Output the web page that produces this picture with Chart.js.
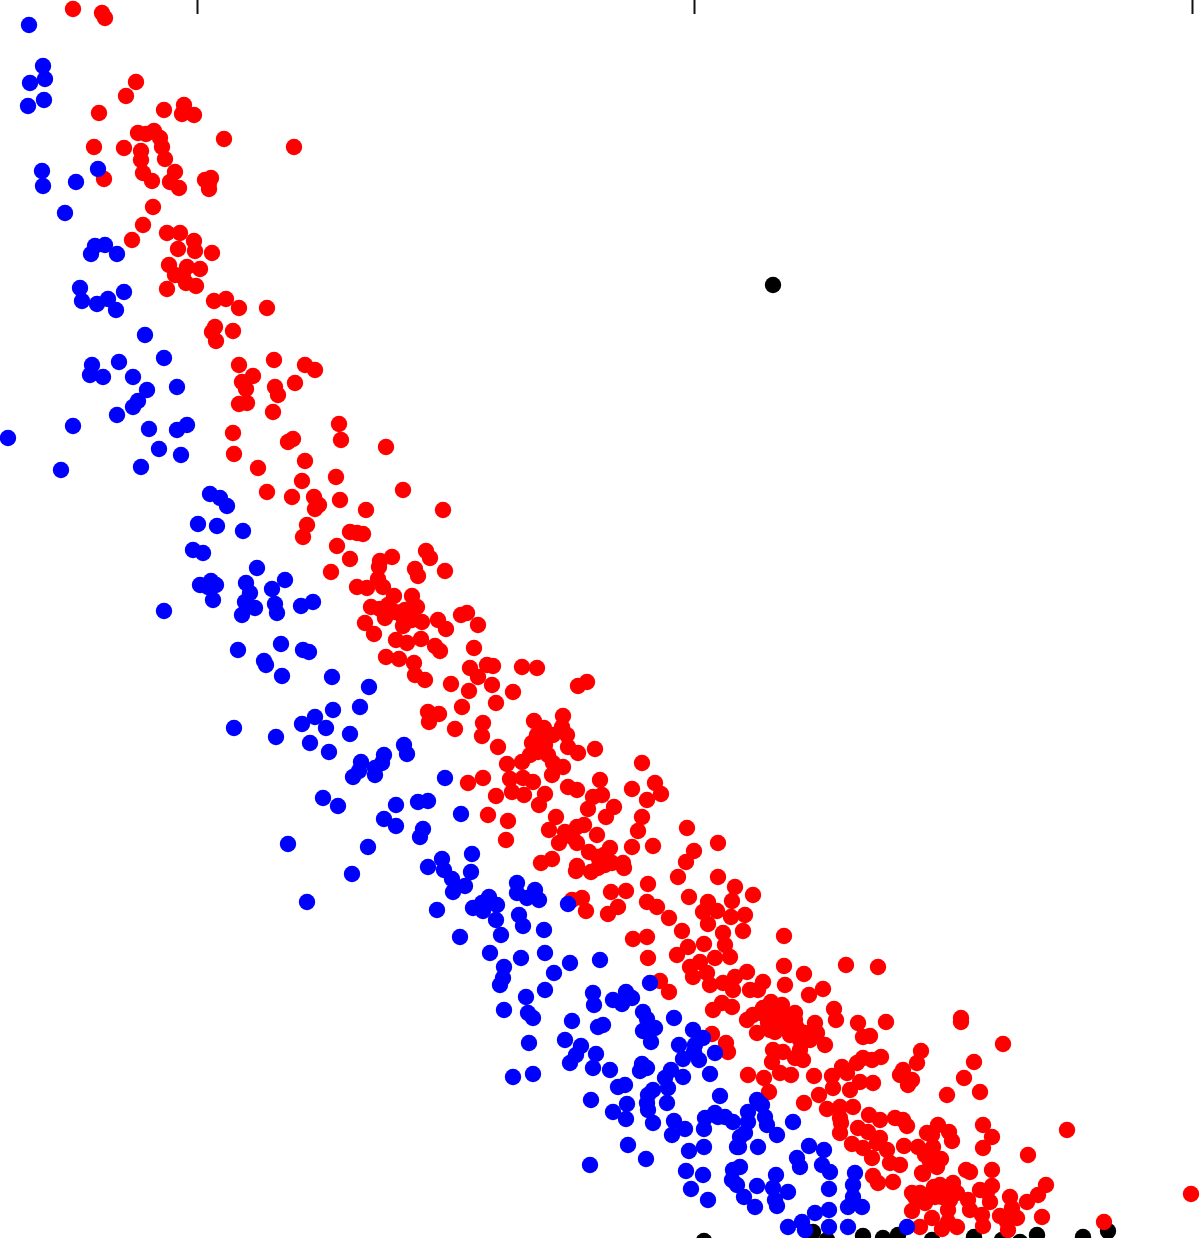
<!DOCTYPE html>
<html>
<head>
<meta charset="utf-8">
<title>Scatter</title>
<script src="https://cdn.jsdelivr.net/npm/chart.js@4/dist/chart.umd.min.js"></script>
<style>
html, body { margin: 0; padding: 0; background: #fff; overflow: hidden; }
canvas { display: block; }
</style>
</head>
<body>
<canvas id="scatter" width="1200" height="1238"></canvas>
<script>
// values, the axis has no labels so the units are arbitrary
var xTicks = [0, 497.5, 995];

var bluePoints = [
[-168,1213],[-154,1172],[-152,1159],[-167,1155],[-153,1138],[-169,1132],[-155,1067],[-154,1052],[-121,1056],[-99,1069],
[-132,1025],[-102,992],[-92,993],[-106,984],[-80,984],[-117,950],[-115,937],[-100,934],[-89,939],[-73,946],
[-81,928],[-52,903],[-33,880],[-78,876],[-105,873],[-107,863],[-94,861],[-64,861],[-50,848],[-20,851],
[-59,837],[-64,831],[-80,823],[-124,812],[-189,800],[-48,809],[-20,808],[-10,813],[-38,789],[-16,783],
[-56,771],[-136,768],[13,744],[23,740],[30,732],[1,714],[20,712],[46,707],[-4,688],[6,685],
[60,670],[88,658],[75,649],[49,655],[53,645],[48,636],[58,630],[78,634],[80,625],[104,632],
[116,636],[45,623],[3,653],[14,657],[19,653],[11,651],[16,638],[-33,627],[41,588],[67,577],
[69,573],[84,594],[106,588],[112,586],[85,562],[135,561],[172,551],[163,531],[136,528],[118,521],
[105,514],[129,510],[153,504],[113,495],[132,486],[207,493],[210,484],[187,483],[185,475],[178,470],
[178,463],[164,476],[162,467],[156,461],[248,460],[37,510],[79,501],[126,440],[141,432],[199,433],
[221,436],[231,437],[264,424],[187,419],[199,412],[226,409],[223,401],[91,394],[171,391],[275,384],
[245,379],[231,371],[247,368],[274,366],[155,364],[255,359],[268,352],[256,346],[110,336],[292,341],
[300,333],[276,330],[286,327],[240,328],[299,318],[304,303],[263,301],[293,285],[320,355],[320,345],
[322,323],[326,312],[338,348],[330,340],[342,338],[371,334],[285,335],[347,308],[324,280],[348,285],
[373,275],[403,278],[357,265],[307,271],[306,260],[303,253],[348,248],[329,241],[453,255],[396,245],
[397,233],[416,238],[429,246],[435,240],[425,234],[307,228],[331,225],[336,220],[446,226],[450,219],
[477,220],[375,217],[406,213],[401,211],[446,207],[458,210],[496,208],[506,200],[332,195],[368,198],
[454,196],[482,193],[384,192],[399,184],[498,193],[497,186],[379,183],[373,175],[518,185],[486,179],
[502,178],[445,174],[396,170],[413,168],[443,167],[450,170],[474,168],[486,161],[513,164],[468,160],
[336,164],[316,161],[428,153],[421,151],[471,150],[456,148],[451,143],[523,142],[394,138],[450,135],
[470,135],[430,134],[518,125],[508,120],[528,121],[416,126],[451,128],[429,119],[456,115],[477,117],
[488,109],[475,103],[507,109],[536,116],[431,93],[507,91],[492,87],[540,91],[449,79],[393,73],
[489,67],[506,63],[494,49],[511,38],[536,68],[535,58],[540,53],[560,138],[565,133],[551,126],
[568,121],[521,121],[551,116],[570,113],[596,116],[548,105],[580,103],[543,101],[542,91],[561,91],
[612,92],[627,88],[600,80],[603,71],[625,73],[633,66],[658,65],[543,71],[560,52],[579,63],
[576,50],[591,46],[547,41],[578,38],[580,32],[558,31],[632,49],[656,53],[656,41],[651,31],
[665,31],[632,28],[618,25],[605,16],[591,11],[632,11],[651,11],[608,8],[710,11]
];

var redPoints = [
[-124,1229],[-95,1225],[-92,1220],[-61,1156],[-71,1142],[-98,1125],[-33,1128],[-13,1133],[-15,1124],[-3,1123],
[-59,1105],[-51,1104],[-43,1107],[-37,1100],[-35,1091],[-103,1091],[-73,1090],[-56,1087],[-56,1078],[-32,1079],
[-54,1065],[-45,1057],[-22,1066],[-27,1056],[-18,1050],[27,1099],[97,1091],[-93,1059],[8,1058],[14,1060],
[12,1055],[12,1049],[-44,1031],[-54,1013],[-65,998],[-30,1005],[-17,1005],[-3,997],[-19,989],[-2,987],
[15,985],[-28,973],[-10,971],[3,969],[-22,963],[-14,961],[-11,955],[-1,952],[-30,949],[17,937],
[29,939],[42,930],[70,930],[36,907],[15,906],[18,911],[19,897],[42,873],[77,878],[108,873],
[118,868],[56,862],[45,856],[49,849],[78,851],[81,843],[98,855],[42,834],[50,835],[76,826],
[36,805],[96,799],[91,796],[37,784],[108,777],[61,770],[105,757],[70,746],[95,741],[117,741],
[118,729],[110,713],[106,701],[142,814],[144,798],[189,791],[139,761],[206,748],[122,733],[143,738],
[169,728],[246,728],[153,706],[160,705],[166,704],[140,692],[153,679],[134,666],[229,687],[233,680],
[195,681],[183,677],[182,671],[218,669],[221,662],[248,667],[181,659],[160,651],[170,650],[186,651],
[197,642],[215,642],[191,633],[174,631],[183,629],[220,631],[208,628],[188,620],[168,615],[215,618],
[225,616],[206,612],[241,618],[249,609],[264,623],[270,625],[281,613],[177,604],[199,598],[210,595],
[224,599],[238,592],[243,587],[277,590],[189,581],[202,579],[217,575],[218,563],[228,558],[273,570],
[290,573],[296,572],[281,561],[325,571],[340,570],[254,554],[295,553],[272,547],[316,546],[381,552],
[390,556],[299,535],[265,531],[231,526],[242,524],[232,516],[286,515],[285,502],[258,509],[301,491],
[337,517],[366,522],[347,510],[365,511],[356,503],[370,503],[340,503],[335,495],[343,491],[371,491],
[381,485],[398,489],[325,476],[333,483],[351,483],[310,474],[366,471],[356,475],[355,463],[313,459],
[326,460],[336,456],[286,460],[271,455],[403,458],[371,451],[380,448],[299,442],[315,446],[327,443],
[348,444],[396,441],[405,443],[445,475],[458,455],[464,444],[435,449],[450,438],[342,433],[391,429],
[417,431],[409,421],[445,421],[291,423],[311,417],[309,398],[359,421],[352,408],[387,413],[380,411],
[368,406],[375,401],[400,403],[362,395],[380,395],[441,407],[490,410],[521,395],[435,391],[456,392],
[497,387],[489,376],[413,390],[392,386],[401,381],[415,375],[426,375],[427,370],[355,379],[344,375],
[380,372],[379,367],[394,366],[401,370],[481,361],[521,361],[451,354],[538,351],[429,347],[414,346],
[556,343],[492,341],[535,337],[450,336],[460,331],[421,331],[411,324],[385,340],[375,338],[389,327],
[511,336],[506,326],[520,327],[511,314],[534,321],[548,323],[472,320],[546,307],[485,307],[526,305],
[528,293],[533,281],[436,299],[450,301],[491,291],[480,283],[507,294],[518,280],[451,280],[587,302],
[503,276],[493,271],[496,261],[510,265],[513,253],[587,272],[550,266],[538,261],[526,255],[553,248],
[566,256],[561,248],[588,253],[536,248],[535,231],[516,228],[574,236],[585,233],[598,225],[566,230],
[556,223],[573,225],[550,218],[463,257],[472,246],[607,264],[649,273],[681,271],[626,249],[612,243],
[525,235],[637,229],[639,218],[689,216],[661,215],[673,202],[666,201],[571,215],[560,205],[578,206],
[588,211],[600,210],[618,215],[608,205],[620,205],[628,193],[605,195],[576,188],[586,186],[575,176],
[598,180],[606,178],[583,165],[594,163],[551,163],[567,160],[572,146],[617,162],[645,171],[635,162],
[684,181],[675,178],[666,180],[660,175],[650,165],[663,156],[676,155],[636,150],[653,148],[724,187],
[720,175],[706,168],[703,163],[715,158],[711,153],[750,143],[622,143],[607,135],[630,129],[643,131],
[656,131],[672,123],[683,118],[698,120],[706,118],[643,120],[515,204],[529,195],[531,186],[644,115],
[643,105],[661,110],[710,112],[707,92],[683,100],[671,106],[655,94],[666,90],[680,95],[690,88],
[675,80],[693,75],[703,73],[676,62],[681,55],[696,56],[721,91],[730,105],[725,65],[715,45],
[715,27],[723,11],[764,220],[764,216],[806,194],[777,176],[767,160],[783,146],[741,113],[786,113],
[870,108],[752,106],[735,103],[755,97],[795,101],[786,90],[736,91],[831,83],[728,83],[744,79],
[733,76],[740,71],[769,68],[773,66],[795,68],[726,64],[849,53],[756,55],[795,52],[737,51],
[841,43],[723,45],[738,41],[748,46],[760,45],[783,48],[790,46],[813,41],[771,38],[793,36],
[830,36],[994,44],[728,35],[751,28],[773,28],[815,30],[845,21],[785,23],[803,22],[820,20],
[735,20],[751,16],[745,9],[760,11],[786,12],[810,16],[811,8],[907,16],
[343,498],[341,486],[348,493],[568,223],[578,220],[588,223],[598,218],[573,208],[593,203],[603,198],
[613,198],[603,188],[583,216],[743,53],[733,43],[745,41],[718,41],[753,38],[213,623],[206,621],
[198,626],[407,383],[408,373]
];

var blackPoints = [
[576,953],[507,-3],[616,6],[630,-2],[666,2],[686,0],[701,3],[735,-2],[777,1],[805,-2],
[823,-4],[840,3],[886,1],[911,7]
];

var toXY = function(p) {
    return { x: p[0], y: p[1] };
};

var makeSet = function(points, color) {
    return {
        data: points.map(toXY),
        backgroundColor: color,
        borderWidth: 0,
        pointRadius: 8.2,
        pointHoverRadius: 8.2,
        clip: false
    };
};

new Chart(document.getElementById('scatter'), {
    type: 'scatter',
    data: {
        // first dataset ends up on top
        datasets: [
            makeSet(bluePoints, '#0000ff'),
            makeSet(redPoints, '#ff0000'),
            makeSet(blackPoints, '#000000')
        ]
    },
    options: {
        responsive: false,
        animation: false,
        layout: { padding: 0, autoPadding: false },
        plugins: {
            legend: { display: false },
            tooltip: { enabled: false }
        },
        scales: {
            x: {
                position: 'top',
                min: -197,
                max: 1003,
                afterBuildTicks: function(axis) {
                    axis.ticks = xTicks.map(function(v) { return { value: v }; });
                },
                border: { display: false },
                grid: {
                    drawOnChartArea: false,
                    drawTicks: true,
                    tickLength: 14,
                    tickWidth: 2,
                    tickColor: '#111111'
                },
                ticks: { display: false }
            },
            y: {
                display: false,
                min: 0,
                max: 1224
            }
        }
    }
});
</script>
</body>
</html>
